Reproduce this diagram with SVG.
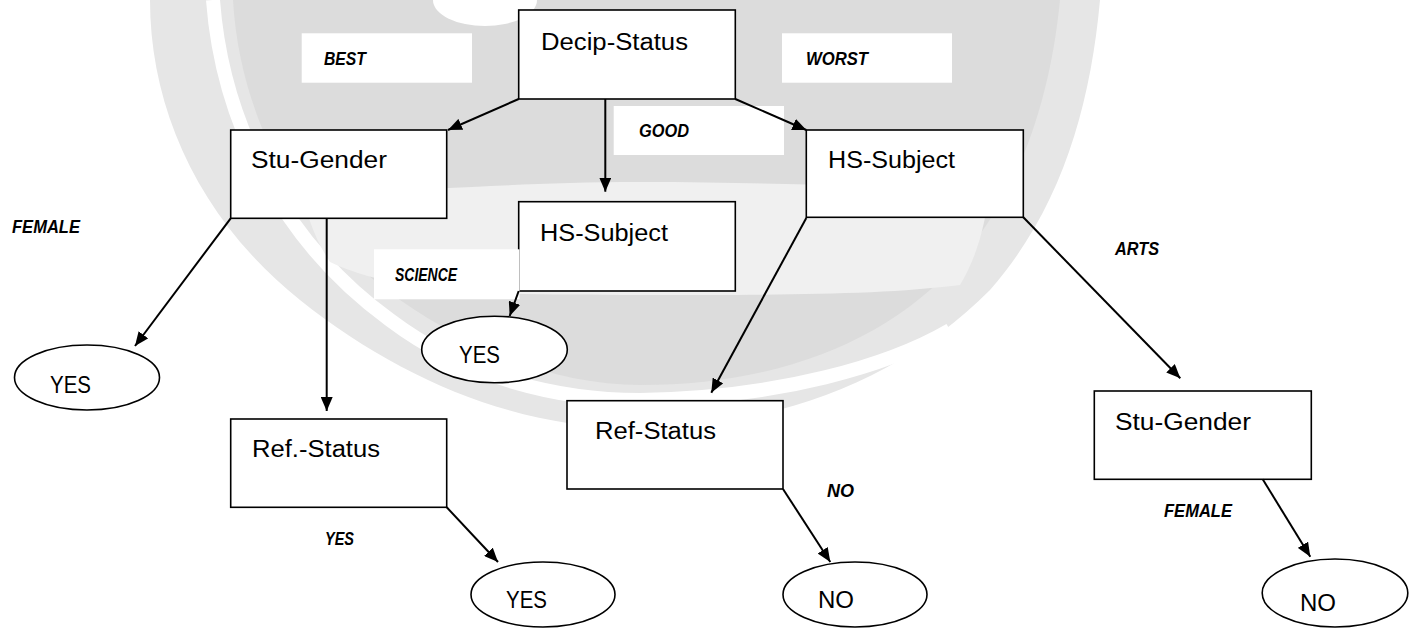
<svg xmlns="http://www.w3.org/2000/svg" width="1419" height="628" viewBox="0 0 1419 628">
<style>
.box{fill:#fff;stroke:#000;stroke-width:1.6}
.lbl{fill:#fff}
.t{font-family:"Liberation Sans",Arial,sans-serif;font-size:23px;fill:#000}
.l{font-family:"Liberation Sans",Arial,sans-serif;font-size:18px;font-weight:bold;font-style:italic;fill:#000}
.c{stroke:#000;stroke-width:2;fill:none;marker-end:url(#ah)}
.wm{fill:#dcdcdc}
.wl{fill:#e6e6e6}
</style>
<defs>
<marker id="ah" markerUnits="userSpaceOnUse" markerWidth="14" markerHeight="12" refX="14" refY="6" orient="auto"><path d="M0,0 L14,6 L0,12 z" fill="#000"/></marker>
</defs>
<rect width="1419" height="628" fill="#fff"/>
<g id="watermark">
<path class="wl" d="M150,0 C150,110 200,220 300,300 C400,380 520,430 640,428 C780,426 900,380 990,290 C1060,210 1090,110 1100,0 Z"/>
<path class="wm" d="M233,0 C240,120 300,230 400,300 C480,355 560,385 640,385 C780,385 890,340 960,260 C1020,190 1050,100 1060,0 Z"/>
<path d="M213,0 C222,120 280,240 390,320 C470,380 560,400 640,400 C780,398 890,365 950,330" fill="none" stroke="#fff" stroke-width="14"/>
<path d="M300,185 C380,198 480,182 640,182 C800,182 900,190 990,185 C985,230 975,260 960,285 C880,295 780,295 640,295 C500,295 400,295 330,262 C315,240 305,210 300,185 Z" fill="#f0f0f0"/>
<ellipse cx="485" cy="0" rx="52" ry="26" fill="#fff"/>
</g>
<g id="n-decip"><rect class="box" x="518.7" y="10" width="216.6" height="89"/><text class="t" x="541" y="50" textLength="147" lengthAdjust="spacingAndGlyphs">Decip-Status</text></g>
<g id="n-stugender1"><rect class="box" x="230.7" y="130" width="216" height="88.3"/><text class="t" x="251" y="168" textLength="136" lengthAdjust="spacingAndGlyphs">Stu-Gender</text></g>
<g id="n-hssubject1"><rect class="box" x="518.7" y="201.7" width="216.6" height="89.3"/><text class="t" x="540" y="241" textLength="128" lengthAdjust="spacingAndGlyphs">HS-Subject</text></g>
<g id="n-hssubject2"><rect class="box" x="806.3" y="130" width="217" height="87.3"/><text class="t" x="828" y="168" textLength="127" lengthAdjust="spacingAndGlyphs">HS-Subject</text></g>
<g id="n-refstatus1"><rect class="box" x="230.7" y="419" width="216" height="88.3"/><text class="t" x="252" y="457" textLength="128" lengthAdjust="spacingAndGlyphs">Ref.-Status</text></g>
<g id="n-refstatus2"><rect class="box" x="567" y="400.7" width="216" height="88.3"/><text class="t" x="595" y="439" textLength="121" lengthAdjust="spacingAndGlyphs">Ref-Status</text></g>
<g id="n-stugender2"><rect class="box" x="1094.3" y="391" width="217" height="88.3"/><text class="t" x="1115" y="430" textLength="136" lengthAdjust="spacingAndGlyphs">Stu-Gender</text></g>
<g id="n-yes1"><ellipse class="box" cx="87" cy="377.5" rx="72.5" ry="32.5"/><text class="t" x="50" y="393" textLength="41" lengthAdjust="spacingAndGlyphs">YES</text></g>
<g id="n-yes2"><ellipse class="box" cx="494.5" cy="349.5" rx="72.8" ry="33.3"/><text class="t" x="459" y="363" textLength="41" lengthAdjust="spacingAndGlyphs">YES</text></g>
<g id="n-yes3"><ellipse class="box" cx="543" cy="594.5" rx="72" ry="32.5"/><text class="t" x="506" y="608" textLength="41" lengthAdjust="spacingAndGlyphs">YES</text></g>
<g id="n-no1"><ellipse class="box" cx="855" cy="594.5" rx="72" ry="32.5"/><text class="t" x="818" y="608" textLength="36" lengthAdjust="spacingAndGlyphs">NO</text></g>
<g id="n-no2"><ellipse class="box" cx="1335" cy="593" rx="72.8" ry="34"/><text class="t" x="1300" y="611" textLength="36" lengthAdjust="spacingAndGlyphs">NO</text></g>
<g id="label-boxes">
<rect class="lbl" x="301.7" y="33.3" width="170.3" height="49.4"/>
<rect class="lbl" x="782" y="33.3" width="170" height="49.4"/>
<rect class="lbl" x="613.7" y="106" width="170.3" height="49"/>
<rect class="lbl" x="374" y="249.3" width="145.5" height="50"/>
</g>
<g id="connectors">
<line class="c" x1="518.7" y1="99" x2="448" y2="130"/>
<line class="c" x1="605.3" y1="99" x2="605.3" y2="191.7"/>
<line class="c" x1="735.3" y1="99" x2="806.3" y2="130"/>
<line class="c" x1="230.7" y1="218.3" x2="135" y2="346"/>
<line class="c" x1="326.7" y1="218.3" x2="326.7" y2="411"/>
<line class="c" x1="518.7" y1="291" x2="509.7" y2="316"/>
<line class="c" x1="806.3" y1="218" x2="711.3" y2="392.7"/>
<line class="c" x1="1023.3" y1="217.3" x2="1180.3" y2="378.3"/>
<line class="c" x1="446.7" y1="507.3" x2="498" y2="562"/>
<line class="c" x1="783" y1="489" x2="830.3" y2="562"/>
<line class="c" x1="1262.7" y1="479.3" x2="1310.3" y2="556.7"/>
</g>
<g id="labels">
<text class="l" x="324" y="65" textLength="42" lengthAdjust="spacingAndGlyphs">BEST</text>
<text class="l" x="806" y="65" textLength="62" lengthAdjust="spacingAndGlyphs">WORST</text>
<text class="l" x="639" y="137" textLength="50" lengthAdjust="spacingAndGlyphs">GOOD</text>
<text class="l" x="395" y="281" textLength="62" lengthAdjust="spacingAndGlyphs">SCIENCE</text>
<text class="l" x="12" y="233" textLength="68" lengthAdjust="spacingAndGlyphs">FEMALE</text>
<text class="l" x="1115" y="255" textLength="44" lengthAdjust="spacingAndGlyphs">ARTS</text>
<text class="l" x="325" y="545" textLength="29" lengthAdjust="spacingAndGlyphs">YES</text>
<text class="l" x="827" y="497" textLength="27" lengthAdjust="spacingAndGlyphs">NO</text>
<text class="l" x="1164" y="517" textLength="68" lengthAdjust="spacingAndGlyphs">FEMALE</text>
</g>
</svg>
